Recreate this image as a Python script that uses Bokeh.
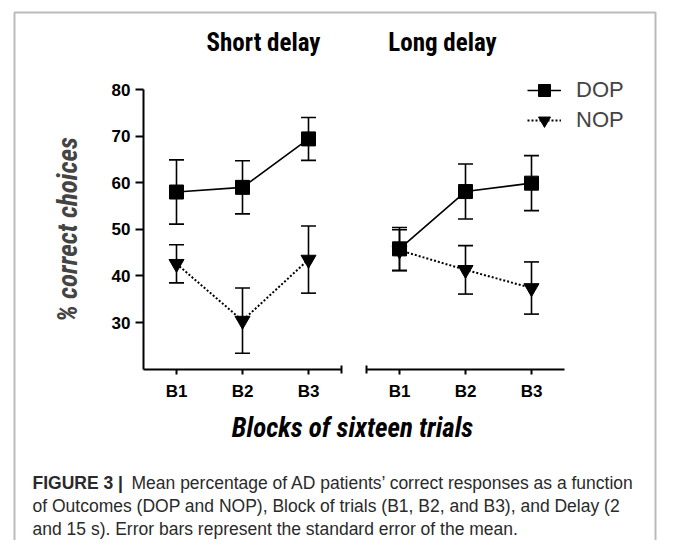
from bokeh.plotting import figure
from bokeh.models import (Range1d, LinearAxis, FixedTicker, Whisker, TeeHead,
                          ColumnDataSource, Legend, LegendItem, Label, BoxAnnotation)
from bokeh.embed import file_html
from bokeh.resources import INLINE

# ---------------- data ----------------
block_labels = ["B1", "B2", "B3"]
block_pos = [1, 2, 3]

short_dop = [58.0, 59.0, 69.4]
short_dop_se = [6.9, 5.7, 4.6]
short_nop = [42.6, 30.4, 43.5]
short_nop_se = [4.1, 7.0, 7.2]

long_dop = [45.8, 58.1, 59.9]
long_dop_se = [4.6, 5.9, 5.9]
long_nop = [45.5, 41.3, 37.4]
long_nop_se = [4.4, 5.2, 5.6]

y_ticks = [30, 40, 50, 60, 70, 80]
y_bounds = (20, 80)

panel_titles = ["Short delay", "Long delay"]
series_names = ["DOP", "NOP"]
y_title = "% correct choices"
x_title = "Blocks of sixteen trials"
caption_bold = "FIGURE 3 |"
caption_lines = [
    "Mean percentage of AD patients\u2019 correct responses as a function",
    "of Outcomes (DOP and NOP), Block of trials (B1, B2, and B3), and Delay (2",
    "and 15 s). Error bars represent the standard error of the mean.",
]

# ---------------- layout (screen px) ----------------
W, H = 657, 540
LEFT_X0 = 143              # px of x=0.5 in left panel
RIGHT_X0 = 366             # px of x=0.5 in right panel
PX_PER_BLOCK = 66
Y80 = 89                   # px of y=80
PX_PER_UNIT = 4.66


def xl(px):
    return 0.5 + (px - LEFT_X0) / PX_PER_BLOCK


def xr(px):
    return 0.5 + (px - RIGHT_X0) / PX_PER_BLOCK


def yd(py):
    return 80 - (py - Y80) / PX_PER_UNIT


p = figure(width=W, height=H, output_backend="svg", toolbar_location=None,
           x_axis_type=None, y_axis_type=None,
           x_range=Range1d(xl(0), xl(W)), y_range=Range1d(yd(H), yd(0)),
           min_border=0, min_border_left=0, min_border_right=0,
           min_border_top=0, min_border_bottom=0)
p.outline_line_color = None
p.background_fill_color = "white"
p.border_fill_color = "white"
p.extra_x_ranges = {"right": Range1d(xr(0), xr(W))}

FONT = "Liberation Sans"
NARROW = "Liberation Sans Narrow, Roboto Condensed, Liberation Sans"

# outer frame
p.add_layout(BoxAnnotation(left=xl(14), right=xl(655), top=yd(12), bottom=yd(700),
                           fill_alpha=0, line_color="#1e1e1e", line_width=2))


def style_axis(ax):
    ax.axis_line_width = 2
    ax.axis_line_color = "black"
    ax.major_tick_line_width = 2
    ax.major_tick_line_color = "black"
    ax.minor_tick_line_width = 2
    ax.minor_tick_line_color = "black"
    ax.major_label_text_font = FONT
    ax.major_label_text_font_style = "bold"
    ax.major_label_text_font_size = "17px"
    ax.major_label_text_color = "black"


# y axis
yax = LinearAxis(fixed_location=0.5, bounds=y_bounds,
                 ticker=FixedTicker(ticks=y_ticks, minor_ticks=[]))
style_axis(yax)
yax.major_tick_in = 0
yax.major_tick_out = 8
yax.minor_tick_in = 0
yax.minor_tick_out = 0
yax.major_label_standoff = 5
yax.axis_label = y_title
yax.axis_label_text_font = NARROW
yax.axis_label_text_font_style = "bold italic"
yax.axis_label_text_font_size = "27px"
yax.axis_label_standoff = 25
p.add_layout(yax, "left")

overrides = {b: lab for b, lab in zip(block_pos, block_labels)}

# x axes
xax_l = LinearAxis(fixed_location=y_bounds[0], bounds=(0.5, 3.5),
                   ticker=FixedTicker(ticks=block_pos, minor_ticks=[3.5]),
                   major_label_overrides=overrides)
xax_r = LinearAxis(fixed_location=y_bounds[0], bounds=(0.5, 3.5), x_range_name="right",
                   ticker=FixedTicker(ticks=block_pos, minor_ticks=[0.5]),
                   major_label_overrides=overrides)
for ax in (xax_l, xax_r):
    style_axis(ax)
    ax.major_tick_in = 0
    ax.major_tick_out = 5
    ax.minor_tick_in = 4
    ax.minor_tick_out = 4
    ax.major_label_standoff = 8
    p.add_layout(ax, "below")


def add_panel(dop, dop_se, nop, nop_se, rng):
    src_n = ColumnDataSource(dict(x=block_pos, y=nop,
                                  upper=[v + e for v, e in zip(nop, nop_se)],
                                  lower=[v - e for v, e in zip(nop, nop_se)]))
    src_d = ColumnDataSource(dict(x=block_pos, y=dop,
                                  upper=[v + e for v, e in zip(dop, dop_se)],
                                  lower=[v - e for v, e in zip(dop, dop_se)]))
    for src in (src_n, src_d):
        p.add_layout(Whisker(base="x", upper="upper", lower="lower", source=src,
                             x_range_name=rng, line_color="black", line_width=1.6,
                             upper_head=TeeHead(size=15, line_width=1.6, line_color="black"),
                             lower_head=TeeHead(size=15, line_width=1.6, line_color="black")))
    ln = p.line("x", "y", source=src_n, x_range_name=rng, line_color="black",
                line_width=2, line_dash="2 2")
    mn = p.scatter("x", "y", source=src_n, x_range_name=rng, marker="inverted_triangle",
                   size=15, color="black")
    ld = p.line("x", "y", source=src_d, x_range_name=rng, line_color="black", line_width=1.6)
    md = p.scatter("x", "y", source=src_d, x_range_name=rng, marker="square",
                   size=14, color="black")
    return ld, md, ln, mn


ld, md, ln, mn = add_panel(short_dop, short_dop_se, short_nop, short_nop_se, "default")
add_panel(long_dop, long_dop_se, long_nop, long_nop_se, "right")

# legend: top-left corner at (527, 75) px
legend = Legend(items=[LegendItem(label=series_names[0], renderers=[ld, md]),
                       LegendItem(label=series_names[1], renderers=[ln, mn])],
                location=(527, H - 75 - 60), glyph_width=34, glyph_height=30,
                label_height=30, spacing=0, padding=0, margin=0, label_standoff=15,
                border_line_color=None, background_fill_alpha=0,
                label_text_font=FONT, label_text_font_size="22px",
                label_text_baseline="middle")
p.add_layout(legend)

# panel titles
for t, cx in zip(panel_titles, [263, 442]):
    p.add_layout(Label(x=xl(cx), y=yd(42), text=t, text_align="center",
                       text_baseline="middle", text_font=NARROW, text_font_style="bold",
                       text_font_size="25px", text_color="black"))

# x title
p.add_layout(Label(x=xl(352), y=yd(427), text=x_title, text_align="center",
                   text_baseline="middle", text_font=NARROW, text_font_style="bold italic",
                   text_font_size="27px", text_color="black"))

# caption
CAP_COLOR = "#2a2a2a"
CAP_SIZE = "17.5px"
cap_y = [482, 505, 528]
p.add_layout(Label(x=xl(32), y=yd(cap_y[0]), text=caption_bold, text_align="left",
                   text_baseline="middle", text_font=FONT, text_font_style="bold",
                   text_font_size=CAP_SIZE, text_color=CAP_COLOR))
for i, (line, cy) in enumerate(zip(caption_lines, cap_y)):
    p.add_layout(Label(x=xl(131 if i == 0 else 32), y=yd(cy), text=line, text_align="left",
                       text_baseline="middle", text_font=FONT,
                       text_font_size=CAP_SIZE, text_color=CAP_COLOR))

open("out.html", "w").write(file_html(p, INLINE))
